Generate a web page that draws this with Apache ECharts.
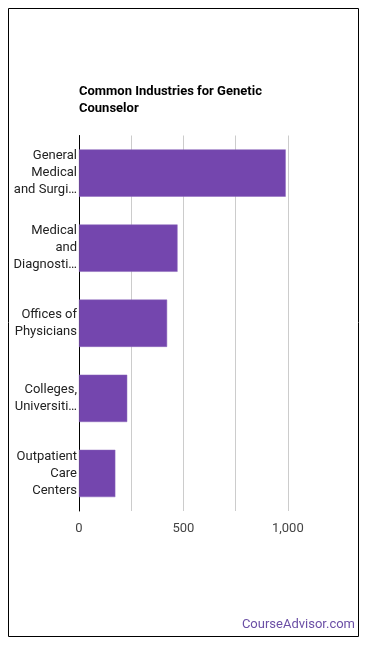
<!DOCTYPE html>
<html><head><meta charset="utf-8">
<script src="https://cdn.jsdelivr.net/npm/echarts@6/dist/echarts.min.js"></script>
<style>html,body{margin:0;padding:0;background:#fff}#c{width:370px;height:648px}</style>
</head><body><div id="c"></div>
<script>
const title = 'Common Industries for Genetic Counselor';
const categories = ['General Medical and Surgical Hospitals','Medical and Diagnostic Laboratories','Offices of Physicians','Colleges, Universities, and Professional Schools','Outpatient Care Centers'];
const tickLabels = ['General\nMedical\nand Surgi…','Medical\nand\nDiagnosti…','Offices of\nPhysicians','Colleges,\nUniversiti…','Outpatient\nCare\nCenters'];
const values = [990, 472, 422, 231, 174];
const xTicks = [0, 250, 500, 750, 1000, 1250];

const chart = echarts.init(document.getElementById('c'), null, {renderer:'canvas'});
chart.setOption({
  animation:false,
  textStyle:{fontFamily:'Roboto'},
  title:{text:'Common Industries for Genetic\nCounselor', left:79, top:83, padding:0,
    textStyle:{fontSize:13, fontWeight:'bold', color:'#000', lineHeight:17, fontFamily:'Roboto'}},
  graphic:[
    {type:'rect', shape:{x:8.5,y:8.5,width:350,height:628}, style:{fill:null, stroke:'#000', lineWidth:1}, silent:true},
    {type:'text', right:15, top:618, style:{text:'CourseAdvisor.com', fill:'#6b4fa5', font:'13px Roboto'}}
  ],
  grid:{left:79, right:30, top:135.5, bottom:137, containLabel:false},
  xAxis:{type:'value', min:xTicks[0], max:xTicks[xTicks.length-1], interval:250,
    axisLine:{show:false}, axisTick:{show:false},
    splitLine:{show:true, showMinLine:false, showMaxLine:false, lineStyle:{color:'#cccccc', width:1}},
    axisLabel:{color:'#444', fontSize:13, margin:11, showMaxLabel:false,
      formatter:v => (v % 500 === 0 && v < 1250) ? v.toLocaleString('en-US') : ''}},
  yAxis:{type:'category', inverse:true, data:categories,
    axisLine:{show:true, lineStyle:{color:'#000', width:1}}, axisTick:{show:false},
    axisLabel:{color:'#222', fontSize:13, lineHeight:17, margin:2, align:'right', padding:[3,0,0,0],
      formatter:(v, i) => tickLabels[i]}},
  series:[{type:'bar', data:values, barCategoryGap:'37%',
    itemStyle:{color:'#7446ae', borderColor:'#8a66bb', borderWidth:0.5}}]
});
</script></body></html>
